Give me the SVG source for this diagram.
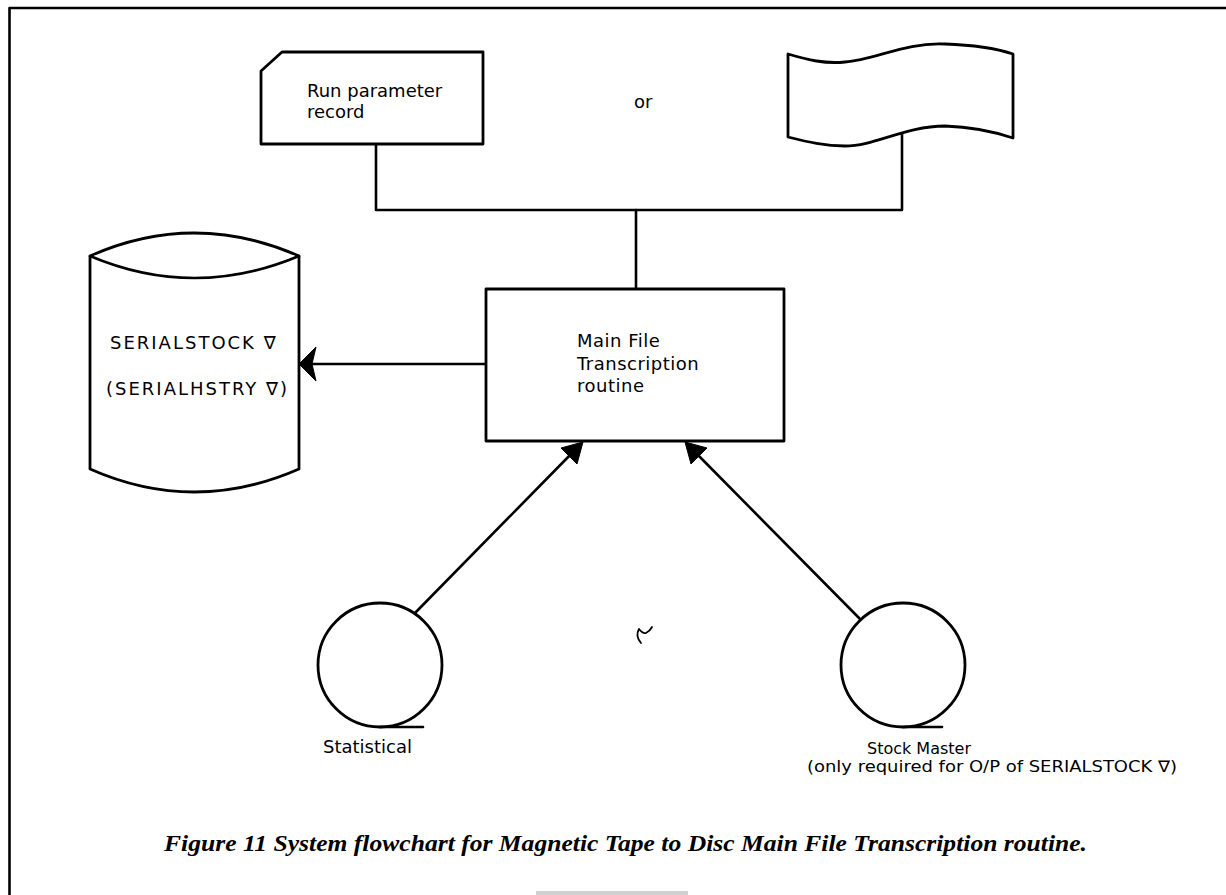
<svg xmlns="http://www.w3.org/2000/svg" width="1226" height="895" viewBox="0 0 1226 895">
  <style>
    .ln { fill: none; stroke: #000; stroke-width: 2.6; stroke-linejoin: round; stroke-linecap: round; }
    .shape { fill: #fff; stroke: #000; stroke-width: 2.8; stroke-linejoin: round; }
    .lbl { font-family: "DejaVu Sans", "Liberation Sans", sans-serif; font-size: 18px; fill: #000; }
    .small { font-size: 16px; }
    .caps { letter-spacing: 2px; }
    .wide { letter-spacing: 0.5px; }
    .cap { font-family: "Liberation Serif", "Times New Roman", serif; font-style: italic; font-weight: bold; font-size: 24px; fill: #000; }
    .head { fill: #000; stroke: #000; stroke-width: 1; stroke-linejoin: round; }
  </style>

  <!-- page frame -->
  <g id="frame">
    <path class="ln" d="M9.5,895 L9.5,8 L1226,8" stroke-width="3"/>
    <rect x="536" y="891" width="152" height="4" fill="#d0d0d0"/>
  </g>

  <!-- connectors -->
  <g id="connectors">
    <path class="ln" d="M376,144 L376,210 L902,210 L902,134"/>
    <path class="ln" d="M636,210 L636,289"/>
    <path class="ln" d="M486,364 L312,364"/>
    <path class="head" d="M299,364 L316,347 L312,364 L316,381 Z"/>
    <path class="ln" d="M415,613 L575,450"/>
    <path class="head" d="M583,442 L577,464 L569,456 L561,448 Z"/>
    <path class="ln" d="M862,621 L693,450"/>
    <path class="head" d="M685,442 L707,448 L699,456 L691,464 Z"/>
  </g>

  <!-- punched card input -->
  <g id="run-parameter-record">
    <path class="shape" d="M282,52 L483,52 L483,144 L261,144 L261,71 Z"/>
    <text class="lbl" x="307" y="97">Run parameter</text>
    <text class="lbl" x="307" y="118">record</text>
  </g>

  <text id="or" class="lbl" x="634" y="108">or</text>

  <!-- punched tape input -->
  <g id="punched-tape">
    <path class="shape" d="M788,54 C808,60 825,64 845,62 C875,60 905,42 945,44 C975,45 995,48 1013,54 L1013,138 C995,132 975,127 945,126 C905,126 875,146 845,146 C825,146 808,142 788,137 Z"/>
  </g>

  <!-- process -->
  <g id="main-file-transcription">
    <rect class="shape" x="486" y="289" width="298" height="152"/>
    <text class="lbl wide" x="577" y="347">Main File</text>
    <text class="lbl wide" x="577" y="370">Transcription</text>
    <text class="lbl wide" x="577" y="392">routine</text>
  </g>

  <!-- disc file -->
  <g id="disc-file">
    <path class="shape" d="M90,256 Q194,210 299,256 L299,469 Q194,515 90,469 Z"/>
    <path class="ln" d="M90,256 Q194,300 299,256"/>
    <text class="lbl caps" x="110" y="349">SERIALSTOCK ∇</text>
    <text class="lbl caps" x="106" y="395">(SERIALHSTRY ∇)</text>
  </g>

  <!-- magnetic tapes -->
  <g id="statistical-tape">
    <circle class="shape" cx="380" cy="665" r="62"/>
    <path class="ln" d="M380,727 L423,727"/>
    <text class="lbl" x="323" y="753">Statistical</text>
  </g>

  <g id="stock-master-tape">
    <circle class="shape" cx="903" cy="665" r="62"/>
    <path class="ln" d="M903,727 L942,727"/>
    <text class="lbl small" x="867" y="754">Stock Master</text>
    <text class="lbl small" x="807" y="772" textLength="370" lengthAdjust="spacingAndGlyphs">(only required for O/P of SERIALSTOCK ∇)</text>
  </g>

  <!-- stray pen mark -->
  <path fill="none" stroke="#000" stroke-width="1.8" stroke-linecap="round" d="M641,643 Q635,636 639,629 M639,629 Q643,634 646,633 Q650,631 652,627"/>

  <text id="caption" class="cap" x="164" y="851" textLength="923" lengthAdjust="spacingAndGlyphs">Figure 11  System flowchart for Magnetic Tape to Disc Main File Transcription routine.</text>
</svg>
